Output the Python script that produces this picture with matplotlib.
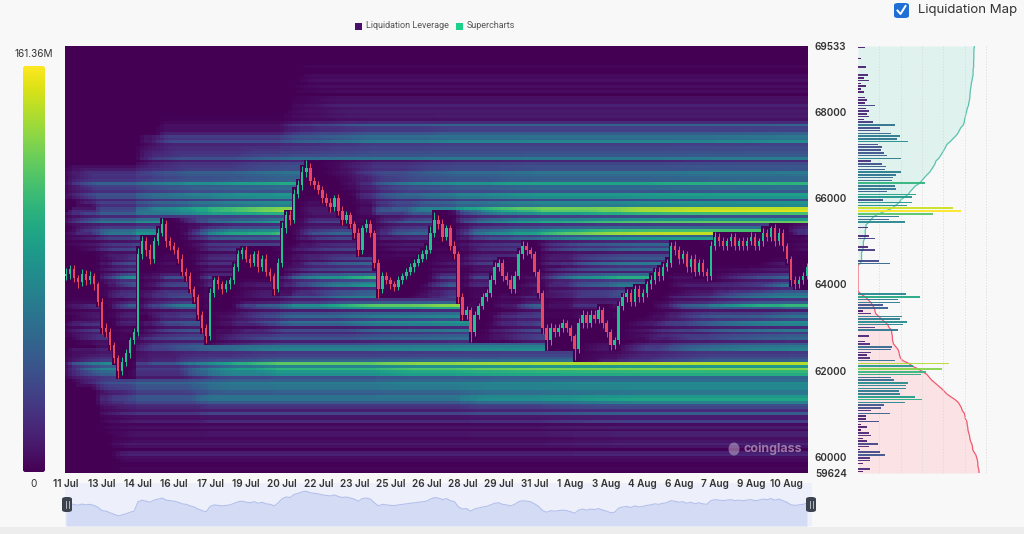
import numpy as np
import matplotlib
matplotlib.use('Agg')
import matplotlib.pyplot as plt
from matplotlib.patches import FancyBboxPatch, Rectangle, Ellipse
from matplotlib.colors import Normalize
from matplotlib.lines import Line2D

plt.rcParams['font.family'] = ['Inter', 'DejaVu Sans']

# ---------------- data ----------------
price_top, price_bot = 69533, 59624
color_max = 161.36  # M
t_start = 11.5          # 11 Jul 12:00 (day-of-July, 1 Aug = 32)
candles_per_day = 6     # 4h candles
first_open = 64200

close_prices = [
    64250, 64350, 64150, 64050, 64250, 64100, 64200, 64000, 63600, 63000, 62900, 62600,
    62300, 62000, 62200, 62400, 62700, 62900, 64700, 65000, 64800, 64600, 65000, 65200,
    65400, 65000, 64900, 64800, 64600, 64300, 64200, 63900, 63700, 63300, 63000, 62800,
    63800, 64100, 64000, 63900, 64000, 64100, 64400, 64700, 64800, 64600, 64500, 64700,
    64400, 64600, 64300, 64200, 63900, 64500, 65300, 65600, 65500, 66100, 66300, 66600,
    66700, 66400, 66300, 66200, 66000, 65900, 65800, 66000, 65700, 65500, 65600, 65400,
    65200, 64800, 65300, 65400, 65200, 64500, 63900, 64200, 64100, 64000, 63950, 64100,
    64200, 64300, 64400, 64500, 64600, 64700, 64800, 65200, 65500, 65400, 65100, 65300,
    64900, 64700, 63700, 63300, 63400, 62900, 63300, 63500, 63700, 63800, 64100, 64400,
    64500, 64200, 64100, 63900, 64200, 64700, 64900, 64800, 64700, 64300, 63800, 63000,
    62700, 63000, 62900, 63000, 63100, 63000, 62800, 62500, 63100, 63300, 63100, 63300,
    63200, 63400, 63100, 62900, 62600, 62700, 63500, 63700, 63800, 63600, 63900, 63700,
    63800, 64000, 64100, 64300, 64200, 64400, 64500, 64900, 64800, 64600, 64700, 64400,
    64600, 64300, 64500, 64300, 64200, 64900, 65100, 65000, 64900, 65000, 65100, 64900,
    65000, 64900, 65000, 65100, 64900, 65000, 65200, 65100, 65300, 65000, 65200, 64900,
    64600, 64100, 64000, 64100, 64200, 64400,
]

wick_hi = [
    120, 90, 110, 80, 100, 90, 120, 70, 60, 80, 100, 90,
    70, 60, 110, 90, 80, 100, 150, 120, 100, 130, 110, 120,
    140, 100, 90, 80, 70, 100, 80, 90, 60, 70, 80, 90,
    120, 80, 90, 70, 100, 80, 90, 110, 80, 90, 100, 80,
    110, 90, 100, 80, 70, 120, 150, 100, 120, 110, 130, 140,
    190, 120, 100, 110, 90, 120, 100, 80, 90, 110, 100, 90,
    80, 100, 90, 120, 100, 60, 90, 100, 80, 70, 80, 90,
    70, 80, 90, 80, 100, 90, 110, 150, 180, 100, 120, 90,
    80, 100, 70, 90, 100, 80, 90, 80, 100, 90, 110, 120,
    100, 90, 80, 110, 120, 100, 110, 90, 80, 70, 60, 70,
    90, 100, 80, 90, 100, 80, 70, 60, 120, 100, 90, 110,
    100, 90, 80, 70, 60, 90, 110, 100, 90, 100, 80, 90,
    100, 90, 110, 80, 100, 90, 100, 80, 110, 90, 100, 80,
    90, 100, 80, 90, 70, 100, 120, 90, 100, 80, 90, 100,
    80, 90, 100, 110, 90, 80, 100, 90, 60, 100, 120, 80,
    70, 60, 90, 100, 80, 90,
]

wick_lo = [
    90, 120, 100, 130, 80, 110, 90, 120, 100, 150, 120, 130,
    120, 170, 100, 90, 110, 80, 90, 110, 130, 120, 100, 90,
    80, 120, 100, 90, 110, 100, 120, 90, 110, 100, 130, 160,
    90, 100, 110, 120, 80, 100, 90, 80, 110, 90, 100, 80,
    100, 90, 110, 120, 150, 80, 90, 100, 110, 80, 90, 100,
    110, 100, 90, 110, 100, 90, 120, 90, 100, 110, 80, 100,
    120, 150, 100, 90, 110, 120, 220, 100, 90, 110, 100, 80,
    90, 80, 90, 100, 80, 90, 100, 80, 90, 110, 100, 80,
    100, 110, 130, 120, 100, 240, 90, 100, 80, 90, 100, 80,
    90, 110, 120, 100, 90, 80, 100, 110, 90, 100, 120, 150,
    220, 100, 120, 90, 100, 110, 120, 260, 90, 100, 110, 90,
    100, 90, 110, 120, 120, 100, 90, 100, 110, 100, 90, 100,
    110, 90, 100, 90, 110, 100, 90, 100, 110, 120, 100, 110,
    100, 110, 90, 100, 110, 100, 90, 110, 100, 90, 100, 110,
    90, 100, 110, 90, 100, 110, 100, 90, 100, 110, 90, 120,
    110, 130, 100, 90, 80, 70,
]

# current liquidation per price level (M), from top level (69533) downwards
side_values = [
    11, 0, 0, 0, 5, 0, 0, 13, 0, 0,
    16, 9, 17, 5, 13, 5, 9, 0, 11, 14,
    11, 27, 13, 17, 14, 17, 9, 24, 58, 34,
    34, 52, 66, 61, 78, 31, 38, 36, 41, 45,
    67, 20, 38, 44, 42, 67, 60, 55, 53, 105,
    58, 60, 45, 91, 85, 39, 85, 77, 149, 161,
    118, 64, 49, 74, 0, 16, 0, 0, 17, 27,
    0, 0, 16, 27, 0, 0, 0, 33, 50, 0,
    0, 0, 0, 0, 0, 0, 0, 0, 0, 75,
    97, 63, 66, 39, 47, 8, 20, 69, 66, 77,
    71, 27, 63, 0, 17, 0, 11, 19, 53, 52,
    20, 14, 19, 58, 143, 86, 132, 107, 99, 52,
    56, 78, 75, 75, 64, 66, 89, 100, 74, 41,
    36, 20, 50, 13, 13, 33, 5, 14, 5, 17,
    20, 8, 14, 31, 17, 3, 34, 42, 19, 19,
    8, 0, 19, 8,
]

# heatmap intensity of levels near the traded range (levels 60..112), before being liquidated
heat_weight_near = [
    118, 40, 90, 130, 30, 60, 120, 155, 50, 90,
    20, 60, 35, 70, 15, 45, 60, 30, 90, 35,
    60, 20, 80, 160, 50, 100, 120, 30, 70, 80,
    90, 30, 60, 150, 110, 20, 60, 80, 40, 90,
    80, 20, 70, 30, 50, 60, 20, 50, 70, 80,
    30, 35, 45,
]
near_start = 60
leverage_tiers = [80, 50, 33, 28]
tier_share = [0.35, 1.0, 1.0, 1.0]
current_price = 64450

xtick_labels = ['11 Jul', '13 Jul', '14 Jul', '16 Jul', '17 Jul', '19 Jul', '20 Jul',
                '22 Jul', '23 Jul', '25 Jul', '26 Jul', '28 Jul', '29 Jul', '31 Jul',
                '1 Aug', '3 Aug', '4 Aug', '6 Aug', '7 Aug', '9 Aug', '10 Aug']
ytick_values = [69533, 68000, 66000, 64000, 62000, 60000, 59624]

# ---------------- figure ----------------
W, H = 1024, 534
BG = '#f8f8f9'
fig = plt.figure(figsize=(W / 100, H / 100), dpi=100, facecolor=BG)


def px_axes(x0, y0, x1, y1, **kw):
    return fig.add_axes([x0 / W, 1 - y1 / H, (x1 - x0) / W, (y1 - y0) / H], **kw)


def fx(x):
    return x / W


def fy(y):
    return 1 - y / H


cmap = plt.get_cmap('viridis')
norm = Normalize(0, color_max)

# derived arrays
n_levels = len(side_values)
step = (price_top - price_bot) / n_levels
levels = price_top - (np.arange(n_levels) + 0.5) * step
level_edges = price_top - np.arange(n_levels + 1) * step

closes = np.array(close_prices, float)
opens = np.r_[first_open, closes[:-1]]
highs = np.maximum(opens, closes) + np.array(wick_hi)
lows = np.minimum(opens, closes) - np.array(wick_lo)
K = len(closes)
times = t_start + np.arange(K) / candles_per_day
dt = 1.0 / candles_per_day
t_edges = np.r_[times - dt / 2, times[-1] + dt / 2]

weights = np.array(side_values, float)
weights[near_start:near_start + len(heat_weight_near)] = heat_weight_near

# liquidation levels build up at price*(1 +/- 1/leverage); a level empties when price trades through it
hits = np.zeros(n_levels)
Z = np.zeros((n_levels, K))
row_lo = levels - step / 2
row_hi = levels + step / 2
for j in range(K):
    for lev, share in zip(leverage_tiers, tier_share):
        for sgn in (1, -1):
            lo = lows[j] * (1 + sgn / lev)
            hi = highs[j] * (1 + sgn / lev)
            hits[(row_hi >= lo) & (row_lo <= hi)] += share
    hits[(row_hi >= lows[j]) & (row_lo <= highs[j])] = 0
    Z[:, j] = weights * (1 - np.exp(-hits / 16.0))

px_per_day = 24.03
x_lo = t_start - 1 / px_per_day
x_hi = t_start + (808 - 66) / px_per_day

# ---- navigator (drawn first, below tick labels) ----
axn = px_axes(65, 483, 812, 526)
axn.set_zorder(0)
axn.set_facecolor('#edf0fa')
nav_lo, nav_hi = 60076, 68265
axn.fill_between(times, closes, nav_lo, color='#d4dcf5', lw=0)
axn.plot(times, closes, color='#b3c0ec', lw=0.8)
axn.set_xlim(x_lo, t_start + (812 - 66) / px_per_day)
axn.set_ylim(nav_lo, nav_hi)
axn.set_xticks([]); axn.set_yticks([])
for s in axn.spines.values():
    s.set_visible(False)

# ---- main heatmap ----
ax = px_axes(65, 46, 808, 473)
ax.set_zorder(2)
ax.pcolormesh(t_edges, level_edges, Z, cmap=cmap, norm=norm, shading='flat', rasterized=True)
up = closes >= opens
cols = np.where(up, '#1fc28c', '#e8475f')
ax.vlines(times, lows, highs, colors=cols, lw=0.7, zorder=3)
ax.bar(times, np.maximum(np.abs(closes - opens), 15), bottom=np.minimum(opens, closes),
       width=0.1, color=cols, lw=0, zorder=4)
ax.set_xlim(x_lo, x_hi)
ax.set_ylim(price_bot, price_top)
ax.set_xticks(t_start + 1.5 * np.arange(len(xtick_labels)))
ax.set_xticklabels(xtick_labels)
ax.yaxis.tick_right()
ax.set_yticks(ytick_values)
ax.set_yticklabels([str(v) for v in ytick_values])
ax.tick_params(axis='x', length=0, pad=4.5, labelsize=7.2, labelcolor='#333333')
ax.tick_params(axis='y', length=0, pad=5, labelsize=7.2, labelcolor='#333333')
for lab in ax.get_xticklabels() + ax.get_yticklabels():
    lab.set_fontweight('semibold')
for s in ax.spines.values():
    s.set_visible(False)

# watermark
fig.patches.append(Ellipse((fx(734), fy(449)), 11 / W, 13 / H, transform=fig.transFigure,
                           color='white', alpha=0.35, lw=0, zorder=5))
fig.text(fx(744), fy(449), 'coinglass', color='white', alpha=0.45, fontsize=9,
         fontweight='bold', va='center', ha='left', zorder=5)

# ---- colour scale (left) ----
axc = px_axes(23, 66, 45, 472)
grad = np.linspace(0, color_max, 256).reshape(-1, 1)
im = axc.imshow(grad, cmap=cmap, norm=norm, aspect='auto', origin='lower', extent=[0, 1, 0, 1])
clip = FancyBboxPatch((0, 0), 1, 1, boxstyle='round,pad=0,rounding_size=0.1',
                      transform=axc.transAxes, facecolor='none', edgecolor='none',
                      mutation_aspect=22 / 406)
axc.add_patch(clip)
im.set_clip_path(clip)
axc.set_xticks([]); axc.set_yticks([])
for s in axc.spines.values():
    s.set_visible(False)
fig.text(fx(34), fy(54), f'{color_max:.2f}M', ha='center', va='center', fontsize=7.2, color='#333333')
fig.text(fx(34), fy(484), '0', ha='center', va='center', fontsize=7.2, color='#333333')

# ---- side liquidation profile ----
axs = px_axes(858, 46, 990, 473)
side = np.array(side_values, float)
side_xmax = color_max * 132 / 103
axs.set_xlim(0, side_xmax)
axs.set_ylim(price_bot, price_top)
for k in range(1, 7):
    axs.axvline(side_xmax * 21.3 * k / 132, color='#d9d9d9', lw=0.6, ls=(0, (1.5, 2)), zorder=0)

above = levels > current_price
below = ~above
pa = levels[above][::-1]
ca = np.cumsum(side[above][::-1])
pb = levels[below]
cb = np.cumsum(side[below])
cum_max = max(ca[-1], cb[-1]) * 132 / 121

axs2 = axs.twiny()
axs2.set_xlim(0, cum_max)
ya = np.r_[current_price, pa, price_top]
xa = np.r_[0, ca, ca[-1]]
yb = np.r_[current_price, pb, price_bot]
xb = np.r_[0, cb, cb[-1]]
axs2.fill_betweenx(ya, 0, xa, color='#dff2ed', lw=0, zorder=1)
axs2.plot(xa, ya, color='#5cc2ad', lw=0.9, zorder=2)
axs2.fill_betweenx(yb, 0, xb, color='#fbe2e5', lw=0, zorder=1)
axs2.plot(xb, yb, color='#ef5a6f', lw=0.9, zorder=2)
axs2.set_zorder(1)
axs.set_zorder(2)
axs.patch.set_visible(False)
axs2.patch.set_visible(False)
axs.barh(levels, side, height=step * 0.55, color=cmap(norm(side)), alpha=0.92, lw=0, zorder=3)
for a in (axs, axs2):
    a.set_xticks([]); a.set_yticks([])
    for s in a.spines.values():
        s.set_visible(False)

# ---- legend & toggle ----
fig.patches.append(Rectangle((fx(355), fy(30)), 7 / W, 7 / H, transform=fig.transFigure,
                             color='#4a0f6c', lw=0))
fig.text(fx(366), fy(26), 'Liquidation Leverage', fontsize=6.5, color='#555555', va='center',
         family=['Roboto', 'DejaVu Sans'])
fig.patches.append(Rectangle((fx(456), fy(30)), 7 / W, 7 / H, transform=fig.transFigure,
                             color='#1ed08a', lw=0))
fig.text(fx(467), fy(26), 'Supercharts', fontsize=6.5, color='#555555', va='center',
         family=['Roboto', 'DejaVu Sans'])

fig.patches.append(FancyBboxPatch((fx(894), fy(18)), 15 / W, 15 / H, transform=fig.transFigure,
                                  boxstyle='round,pad=0,rounding_size=0.004',
                                  facecolor='#1f6fd6', edgecolor='none'))
fig.lines.append(Line2D([fx(897.5), fx(900.5), fx(905.5)], [fy(10.5), fy(14), fy(6)],
                        transform=fig.transFigure, color='white', lw=1.4))
fig.text(fx(918), fy(10.5), 'Liquidation Map', fontsize=9.5, color='#333333', va='center')

# nav handles
for hx in (67, 811):
    fig.patches.append(FancyBboxPatch((fx(hx - 5), fy(512)), 10 / W, 15 / H, transform=fig.transFigure,
                                      boxstyle='round,pad=0,rounding_size=0.004',
                                      facecolor='#3c424e', edgecolor='none', zorder=6))
    for dx in (-1.5, 1.5):
        fig.lines.append(Line2D([fx(hx + dx)] * 2, [fy(501), fy(508)], transform=fig.transFigure,
                                color='#c9ccd3', lw=0.6, zorder=7))

fig.patches.append(Rectangle((0, 0), 1, 7 / H, transform=fig.transFigure, color='#ededee', lw=0))

fig.savefig('out.png', dpi=100, facecolor=BG)
